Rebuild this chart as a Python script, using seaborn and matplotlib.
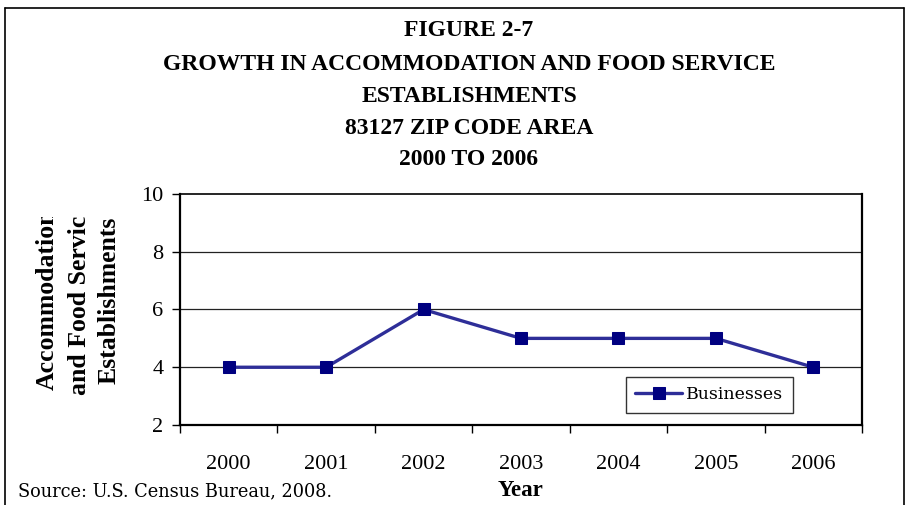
import matplotlib
matplotlib.use("Agg")
import matplotlib.pyplot as plt
import seaborn as sns
import pandas as pd
from matplotlib.transforms import Bbox

years = ["2000", "2001", "2002", "2003", "2004", "2005", "2006"]
businesses = [4, 4, 6, 5, 5, 5, 4]
series_name = "Businesses"
title_lines = ["FIGURE 2-7", "GROWTH IN ACCOMMODATION AND FOOD SERVICE",
               "ESTABLISHMENTS", "83127 ZIP CODE AREA", "2000 TO 2006"]
ylabel = "Accommodation\nand Food Service\nEstablishments"
xlabel = "Year"
source = "Source: U.S. Census Bureau, 2008."

sns.set_theme(style="white")
plt.rcParams['font.family'] = ['Liberation Serif', 'DejaVu Serif']
plt.rcParams['text.color'] = 'black'
plt.rcParams['xtick.color'] = 'black'
plt.rcParams['ytick.color'] = 'black'

df = pd.DataFrame({"Year": years, series_name: businesses})
df["pos"] = range(len(years))

fig = plt.figure(figsize=(9.09, 5.05), dpi=100)
ax = fig.add_axes([180/909, 1-425/505, (862-180)/909, (425-194)/505])

sns.lineplot(data=df, x="pos", y=series_name, ax=ax, color="#2E2E98", linewidth=2.4,
             marker="s", markersize=8, markerfacecolor="#000080", markeredgecolor="#000080",
             label=series_name)

ax.set_xlim(-0.5, len(years) - 0.5)
ax.set_ylim(2, 10)
ax.set_yticks([2, 4, 6, 8, 10])
ax.set_yticklabels(["2", "4", "6", "8", "10"], fontsize=16, family="Liberation Serif")
ax.set_xticks([i - 0.5 for i in range(len(years) + 1)])
ax.set_xticklabels([])
for i, y in enumerate(years):
    ax.text(i, -0.17, y, transform=ax.get_xaxis_transform(), ha="center", va="center",
            fontsize=16, color="black", family="Liberation Serif")
ax.tick_params(axis="both", direction="out", length=6, width=1, color="black", pad=6,
               bottom=True, left=True, labelcolor="black")
ax.grid(False)
for yv in [4, 6, 8]:
    ax.axhline(yv, color="#222222", linewidth=0.9, zorder=0)
for side in ["left", "bottom", "right"]:
    ax.spines[side].set_color("black")
    ax.spines[side].set_linewidth(1.6)
ax.spines["top"].set_color("black")
ax.spines["top"].set_linewidth(1.2)
ax.set_xlabel("")
ax.set_ylabel("")

leg = ax.legend(loc="lower right", frameon=True, fancybox=False,
                edgecolor="black", handlelength=2.7, borderpad=0.55, handletextpad=0.25,
                borderaxespad=0, labelcolor="black",
                prop={"family": ["DejaVu Serif"], "size": 12.5})
leg.get_frame().set_linewidth(1.0)
leg.set_bbox_to_anchor(((793-180)/682, (425-413)/231), transform=ax.transAxes)

# Title
title_y = [31, 64, 96, 128, 159]
for t, yp in zip(title_lines, title_y):
    fig.text(469/909, 1 - yp/505, t, ha="center", va="center", fontsize=17,
             fontweight="bold", color="black")

# Y label (clipped as in the original)
clip = Bbox.from_extents(0, 0, 909, 505 - 217)
for line, xp in zip(ylabel.split("\n"), [47, 80, 109]):
    t = fig.text(xp/909, 1 - 300/505, line, rotation=90, ha="center", va="center",
                 fontsize=18.5, fontweight="bold", color="black")
    t.set_clip_box(clip)
    t.set_clip_on(True)

fig.text(521/909, 1 - 491/505, xlabel, ha="center", va="center", fontsize=16.5,
         fontweight="bold", color="black")
fig.text(18/909, 1 - 491/505, source, ha="left", va="center", fontsize=12.8,
         family=["DejaVu Serif"], color="black")

# Outer frame (left, top, right)
for xs, ys in [([5, 5], [505, 8]), ([5, 904], [8, 8]), ([904, 904], [8, 505])]:
    fig.add_artist(plt.Line2D([x/909 for x in xs], [1 - y/505 for y in ys], color="black",
                              lw=1.2, transform=fig.transFigure))

fig.savefig("out.png", dpi=100, facecolor="white")
